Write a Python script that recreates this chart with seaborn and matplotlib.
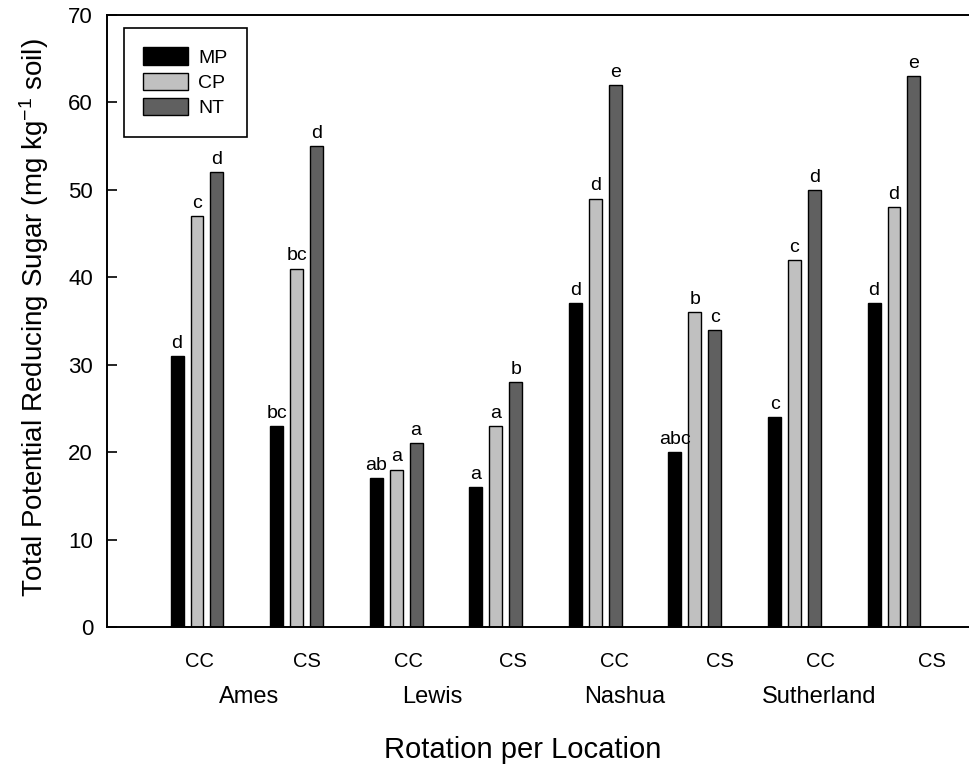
import pandas as pd
import matplotlib
matplotlib.use("Agg")
import matplotlib.pyplot as plt
import seaborn as sns

# data
sites = ["Ames CC", "Ames CS", "Lewis CC", "Lewis CS",
         "Nashua CC", "Nashua CS", "Sutherland CC", "Sutherland CS"]
rotations = ["CC", "CS", "CC", "CS", "CC", "CS", "CC", "CS"]
locations = ["Ames", "Lewis", "Nashua", "Sutherland"]
treatments = ["MP", "CP", "NT"]
mp = [31, 23, 17, 16, 37, 20, 24, 37]
cp = [47, 41, 18, 23, 49, 36, 42, 48]
nt = [52, 55, 21, 28, 62, 34, 50, 63]
mp_letters = ["d", "bc", "ab", "a", "d", "abc", "c", "d"]
cp_letters = ["c", "bc", "a", "a", "d", "b", "c", "d"]
nt_letters = ["d", "d", "a", "b", "e", "c", "d", "e"]
y_ticks = [0, 10, 20, 30, 40, 50, 60, 70]

# long table for seaborn
df = pd.DataFrame({
    "site": sites * 3,
    "tillage": ["MP"] * 8 + ["CP"] * 8 + ["NT"] * 8,
    "sugar": mp + cp + nt,
})

sns.set_style("ticks")
plt.rcParams["font.family"] = ["Liberation Sans", "DejaVu Sans"]
plt.rcParams["mathtext.fontset"] = "custom"
plt.rcParams["mathtext.rm"] = "Liberation Sans"
plt.rcParams["mathtext.default"] = "rm"
for key in ["text.color", "axes.labelcolor", "xtick.color", "ytick.color"]:
    plt.rcParams[key] = "black"

fig = plt.figure(figsize=(9.7, 7.69), dpi=100)
ax = fig.add_axes([0.1103, 0.1847, 0.8897, 0.7958])

colors = {"MP": "#000000", "CP": "#c0c0c0", "NT": "#606060"}
sns.barplot(data=df, x="site", y="sugar", hue="tillage", order=sites,
            hue_order=treatments, palette=colors, saturation=1,
            width=0.6, gap=0.35, edgecolor="black", linewidth=1,
            errorbar=None, ax=ax)

# significance letters above bars
for cont, labs in zip(ax.containers, [mp_letters, cp_letters, nt_letters]):
    ax.bar_label(cont, labels=labs, padding=3, fontsize=14, color="black")

ax.set_ylim(0, 70)
ax.set_xlim(-0.904, 7.763)
ax.set_yticks(y_ticks)
ax.tick_params(axis="y", direction="in", length=7, width=1.2,
               labelsize=16, pad=10, colors="black")

# rotation labels under each group
rot_pos = [0.03, 1.105, 2.12, 3.17, 4.19, 5.25, 6.26, 7.38]
ax.set_xticks(rot_pos, labels=rotations)
ax.tick_params(axis="x", length=0, labelsize=14.5, pad=18, colors="black")

loc_pos = [0.52, 2.36, 4.30, 6.25]
for x, name in zip(loc_pos, locations):
    ax.text(x, -0.114, name, transform=ax.get_xaxis_transform(),
            ha="center", va="center", fontsize=17, color="black")

ax.set_xlabel("")
ax.text(0.4818, -0.201, "Rotation per Location", transform=ax.transAxes,
        ha="center", va="center", fontsize=21, color="black")
ax.set_ylabel("Total Potential Reducing Sugar (mg kg$^{-1}$ soil)",
              fontsize=20, color="black")
ax.yaxis.set_label_coords(-0.065, 0.505)

for side in ["left", "top", "bottom"]:
    ax.spines[side].set_linewidth(1.4)
    ax.spines[side].set_color("black")
ax.spines["right"].set_visible(False)

handles, labels = ax.get_legend_handles_labels()
leg = ax.legend(handles, labels, loc="upper left",
                bbox_to_anchor=(0.0197, 0.9788), borderaxespad=0,
                fontsize=14, handlelength=2.3, handleheight=1.0,
                labelspacing=0.3, handletextpad=0.5, borderpad=1.0,
                fancybox=False, framealpha=1, edgecolor="black")
leg.get_frame().set_linewidth(1.2)
for t in leg.get_texts():
    t.set_color("black")

fig.savefig("out.png", dpi=100)
